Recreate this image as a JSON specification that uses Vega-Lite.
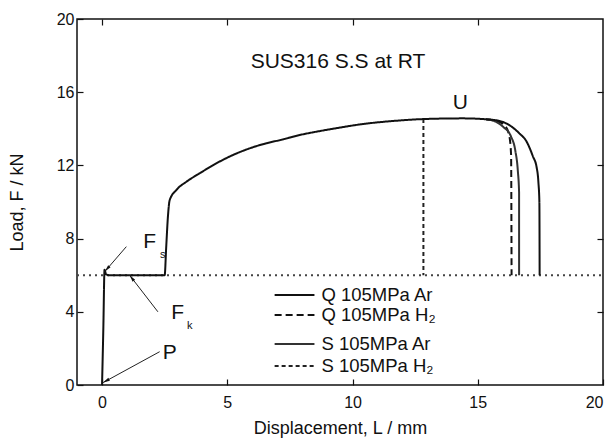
{
  "$schema": "https://vega.github.io/schema/vega-lite/v6.json",
  "autosize": "none",
  "width": 526,
  "height": 366,
  "padding": {"left": 77, "top": 19, "right": 10, "bottom": 59},
  "config": {
    "view": {"stroke": "#111", "strokeWidth": 1.5},
    "font": "Liberation Sans",
    "axis": {"grid": false, "domain": false, "tickColor": "#111", "tickWidth": 1.2, "labelColor": "#111", "titleColor": "#111", "labelFont": "Liberation Sans", "titleFont": "Liberation Sans", "titleFontWeight": "normal"}
  },
  "datasets": {
    "curves": [
      {"s": "ref", "g": "ref", "i": 0, "x": -1, "y": 6},
      {"s": "ref", "g": "ref", "i": 1, "x": 20, "y": 6},

      {"s": "SH2", "g": "SH2", "i": 0, "x": 12.83, "y": 14.53},
      {"s": "SH2", "g": "SH2", "i": 1, "x": 12.83, "y": 6.0},

      {"s": "QH2", "g": "QH2", "i": 0, "x": 15.33, "y": 14.52},
      {"s": "QH2", "g": "QH2", "i": 1, "x": 15.8, "y": 14.4},
      {"s": "QH2", "g": "QH2", "i": 2, "x": 16.1, "y": 14.15},
      {"s": "QH2", "g": "QH2", "i": 3, "x": 16.26, "y": 13.6},
      {"s": "QH2", "g": "QH2", "i": 4, "x": 16.33, "y": 12.6},
      {"s": "QH2", "g": "QH2", "i": 5, "x": 16.35, "y": 6.0},

      {"s": "SAr", "g": "SAr", "i": 0, "x": 15.33, "y": 14.52},
      {"s": "SAr", "g": "SAr", "i": 1, "x": 15.7, "y": 14.4},
      {"s": "SAr", "g": "SAr", "i": 2, "x": 16.0, "y": 14.12},
      {"s": "SAr", "g": "SAr", "i": 3, "x": 16.33, "y": 13.57},
      {"s": "SAr", "g": "SAr", "i": 4, "x": 16.5, "y": 12.8},
      {"s": "SAr", "g": "SAr", "i": 5, "x": 16.6, "y": 11.7},
      {"s": "SAr", "g": "SAr", "i": 6, "x": 16.65, "y": 10.5},
      {"s": "SAr", "g": "SAr", "i": 7, "x": 16.65, "y": 6.0},

      {"s": "QAr", "g": "QAr", "i": 0, "x": 0, "y": 0},
      {"s": "QAr", "g": "QAr", "i": 1, "x": 0.05, "y": 3},
      {"s": "QAr", "g": "QAr", "i": 2, "x": 0.1, "y": 6.3},
      {"s": "QAr", "g": "QAr", "i": 3, "x": 0.16, "y": 6.05},
      {"s": "QAr", "g": "QAr", "i": 4, "x": 0.3, "y": 6.0},
      {"s": "QAr", "g": "QAr", "i": 5, "x": 2.5, "y": 6.0},
      {"s": "QAr", "g": "QAr", "i": 6, "x": 2.56, "y": 7.5},
      {"s": "QAr", "g": "QAr", "i": 7, "x": 2.63, "y": 9.2},
      {"s": "QAr", "g": "QAr", "i": 8, "x": 2.7, "y": 10.1},
      {"s": "QAr", "g": "QAr", "i": 9, "x": 2.97, "y": 10.66},
      {"s": "QAr", "g": "QAr", "i": 10, "x": 3.37, "y": 11.11},
      {"s": "QAr", "g": "QAr", "i": 11, "x": 3.9, "y": 11.57},
      {"s": "QAr", "g": "QAr", "i": 12, "x": 4.56, "y": 12.11},
      {"s": "QAr", "g": "QAr", "i": 13, "x": 5.23, "y": 12.57},
      {"s": "QAr", "g": "QAr", "i": 14, "x": 5.89, "y": 12.93},
      {"s": "QAr", "g": "QAr", "i": 15, "x": 6.56, "y": 13.21},
      {"s": "QAr", "g": "QAr", "i": 16, "x": 7.22, "y": 13.42},
      {"s": "QAr", "g": "QAr", "i": 17, "x": 7.89, "y": 13.66},
      {"s": "QAr", "g": "QAr", "i": 18, "x": 8.55, "y": 13.84},
      {"s": "QAr", "g": "QAr", "i": 19, "x": 9.21, "y": 14.0},
      {"s": "QAr", "g": "QAr", "i": 20, "x": 10.41, "y": 14.26},
      {"s": "QAr", "g": "QAr", "i": 21, "x": 11.74, "y": 14.44},
      {"s": "QAr", "g": "QAr", "i": 22, "x": 12.8, "y": 14.53},
      {"s": "QAr", "g": "QAr", "i": 23, "x": 14.4, "y": 14.57},
      {"s": "QAr", "g": "QAr", "i": 24, "x": 15.33, "y": 14.52},
      {"s": "QAr", "g": "QAr", "i": 25, "x": 15.8, "y": 14.45},
      {"s": "QAr", "g": "QAr", "i": 26, "x": 16.13, "y": 14.3},
      {"s": "QAr", "g": "QAr", "i": 27, "x": 16.66, "y": 13.75},
      {"s": "QAr", "g": "QAr", "i": 28, "x": 16.95, "y": 13.3},
      {"s": "QAr", "g": "QAr", "i": 29, "x": 17.2, "y": 12.5},
      {"s": "QAr", "g": "QAr", "i": 30, "x": 17.35, "y": 11.9},
      {"s": "QAr", "g": "QAr", "i": 31, "x": 17.42, "y": 11.1},
      {"s": "QAr", "g": "QAr", "i": 32, "x": 17.46, "y": 10.0},
      {"s": "QAr", "g": "QAr", "i": 33, "x": 17.47, "y": 6.0},

      {"s": "QAr", "g": "L1", "i": 0, "x": 6.89, "y": 4.92},
      {"s": "QAr", "g": "L1", "i": 1, "x": 8.48, "y": 4.92},
      {"s": "QH2", "g": "L2", "i": 0, "x": 6.89, "y": 3.83},
      {"s": "QH2", "g": "L2", "i": 1, "x": 8.48, "y": 3.83},
      {"s": "SAr", "g": "L3", "i": 0, "x": 6.89, "y": 2.24},
      {"s": "SAr", "g": "L3", "i": 1, "x": 8.48, "y": 2.24},
      {"s": "SH2", "g": "L4", "i": 0, "x": 6.89, "y": 1.04},
      {"s": "SH2", "g": "L4", "i": 1, "x": 8.48, "y": 1.04}
    ],
    "legendText": [
      {"t": "Q 105MPa Ar", "x": 8.76, "y": 4.92},
      {"t": "Q 105MPa H₂", "x": 8.76, "y": 3.83},
      {"t": "S 105MPa Ar", "x": 8.76, "y": 2.24},
      {"t": "S 105MPa H₂", "x": 8.76, "y": 1.04}
    ],
    "labels": [
      {"t": "SUS316 S.S at RT", "x": 9.42, "y": 17.65},
      {"t": "U", "x": 14.3, "y": 15.4},
      {"t": "F", "x": 1.9, "y": 7.83},
      {"t": "F", "x": 3.02, "y": 3.93},
      {"t": "P", "x": 2.7, "y": 1.75}
    ],
    "subs": [
      {"t": "s", "x": 2.42, "y": 7.1},
      {"t": "k", "x": 3.5, "y": 3.2}
    ],
    "arrows": [
      {"a": "Fs", "x": 0.97, "y": 7.56, "x2": 0.11, "y2": 6.2},
      {"a": "Fk", "x": 2.23, "y": 4.0, "x2": 1.1, "y2": 6.0},
      {"a": "P", "x": 2.3, "y": 1.82, "x2": 0.04, "y2": 0.13}
    ]
  },
  "layer": [
    {
      "layer": [
        {
          "data": {"name": "curves"},
          "mark": {"type": "line", "strokeCap": "butt", "strokeJoin": "round", "interpolate": "monotone"},
          "encoding": {
            "x": {"field": "x", "type": "quantitative", "scale": {"domain": [-1, 20], "nice": false, "zero": false},
                  "axis": {"values": [0, 5, 10, 15, 20], "tickSize": -6, "labelFontSize": 16, "labelPadding": 15, "title": "Displacement, L / mm", "titleFontSize": 18, "titlePadding": 9}},
            "y": {"field": "y", "type": "quantitative", "scale": {"domain": [0, 20], "nice": false, "zero": false},
                  "axis": {"values": [0, 4, 8, 12, 16, 20], "tickSize": -6, "labelFontSize": 16, "labelPadding": 9, "title": "Load, F / kN", "titleFontSize": 18, "titlePadding": 30}},
            "detail": {"field": "g"},
            "order": {"field": "i", "type": "quantitative"},
            "color": {"field": "s", "type": "nominal", "legend": null,
                      "scale": {"domain": ["QAr", "QH2", "SAr", "SH2", "ref"], "range": ["#111", "#111", "#333", "#222", "#444"]}},
            "strokeDash": {"field": "s", "type": "nominal", "legend": null,
                      "scale": {"domain": ["QAr", "QH2", "SAr", "SH2", "ref"], "range": [[1, 0], [7, 4], [1, 0], [4, 3], [2, 4]]}},
            "strokeWidth": {"field": "s", "type": "nominal", "legend": null,
                      "scale": {"domain": ["QAr", "QH2", "SAr", "SH2", "ref"], "range": [2, 2, 1.2, 1, 1.4]}}
          }
        },
        {
          "data": {"name": "arrows"},
          "mark": {"type": "rule", "color": "#222", "strokeWidth": 1},
          "encoding": {
            "x": {"field": "x", "type": "quantitative"},
            "y": {"field": "y", "type": "quantitative"},
            "x2": {"field": "x2"},
            "y2": {"field": "y2"}
          }
        },
        {
          "data": {"name": "arrows"},
          "transform": [{"filter": "datum.a == 'Fs'"}],
          "mark": {"type": "point", "shape": "M0,0L0.5,2.2L-0.5,2.2Z", "filled": true, "color": "#111", "opacity": 1, "size": 40, "angle": 221},
          "encoding": {"x": {"field": "x2", "type": "quantitative"}, "y": {"field": "y2", "type": "quantitative"}}
        },
        {
          "data": {"name": "arrows"},
          "transform": [{"filter": "datum.a == 'Fk'"}],
          "mark": {"type": "point", "shape": "M0,0L0.5,2.2L-0.5,2.2Z", "filled": true, "color": "#111", "opacity": 1, "size": 40, "angle": 322},
          "encoding": {"x": {"field": "x2", "type": "quantitative"}, "y": {"field": "y2", "type": "quantitative"}}
        },
        {
          "data": {"name": "arrows"},
          "transform": [{"filter": "datum.a == 'P'"}],
          "mark": {"type": "point", "shape": "M0,0L0.5,2.2L-0.5,2.2Z", "filled": true, "color": "#111", "opacity": 1, "size": 40, "angle": 241},
          "encoding": {"x": {"field": "x2", "type": "quantitative"}, "y": {"field": "y2", "type": "quantitative"}}
        },
        {
          "data": {"name": "legendText"},
          "mark": {"type": "text", "align": "left", "baseline": "middle", "fontSize": 18.5, "color": "#111"},
          "encoding": {"x": {"field": "x", "type": "quantitative"}, "y": {"field": "y", "type": "quantitative"}, "text": {"field": "t"}}
        },
        {
          "data": {"name": "labels"},
          "mark": {"type": "text", "align": "center", "baseline": "middle", "fontSize": 21, "color": "#111"},
          "encoding": {"x": {"field": "x", "type": "quantitative"}, "y": {"field": "y", "type": "quantitative"}, "text": {"field": "t"}}
        },
        {
          "data": {"name": "subs"},
          "mark": {"type": "text", "align": "center", "baseline": "middle", "fontSize": 11, "color": "#111"},
          "encoding": {"x": {"field": "x", "type": "quantitative"}, "y": {"field": "y", "type": "quantitative"}, "text": {"field": "t"}}
        }
      ]
    },
    {
      "data": {"name": "arrows"},
      "mark": {"type": "point", "opacity": 0},
      "encoding": {
        "x": {"field": "x", "type": "quantitative", "axis": {"orient": "top", "values": [0, 5, 10, 15], "tickSize": -6, "labels": false, "title": null}},
        "y": {"field": "y", "type": "quantitative", "axis": {"orient": "right", "values": [4, 8, 12, 16], "tickSize": -6, "labels": false, "title": null}}
      }
    }
  ],
  "resolve": {"axis": {"x": "independent", "y": "independent"}}
}
